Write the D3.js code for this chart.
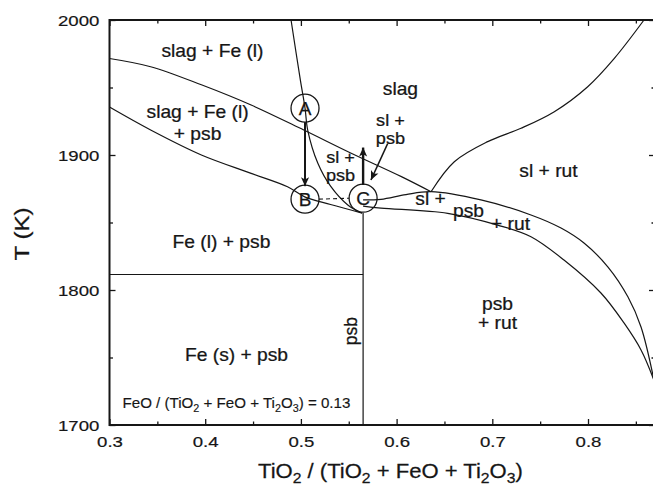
<!DOCTYPE html>
<html>
<head>
<meta charset="utf-8">
<script src="https://cdn.jsdelivr.net/npm/d3@7"></script>
<style>
  html, body { margin: 0; padding: 0; background: #fff; }
  svg { display: block; font-family: Arial, "Liberation Sans", Helvetica, sans-serif; }
</style>
</head>
<body>
<svg id="chart" width="653" height="485"></svg>
<script>
// ---- axis ticks ----
var xMajorTicks = [0.3, 0.4, 0.5, 0.6, 0.7, 0.8];
var xMinorTicks = [0.35, 0.45, 0.55, 0.65, 0.75, 0.85];
var yMajorTicks = [1700, 1800, 1900, 2000];
var yMinorTicks = [1750, 1850, 1950];

// ---- phase boundaries: [TiO2 fraction, T (K)] ----
var slagFeUpper = [[0.3, 1971.5], [0.343, 1965.4], [0.396, 1952], [0.448, 1937], [0.503, 1918.5],
                   [0.552, 1901.5], [0.605, 1884], [0.636, 1872.8]];
var slagFeLower = [[0.3, 1935.5], [0.343, 1918.5], [0.396, 1900], [0.448, 1886.4], [0.486, 1876.5],
                   [0.504, 1869], [0.531, 1863.3], [0.564, 1857]];
var psbLiquidus = [[0.4897, 2000], [0.4994, 1955.6], [0.5043, 1934.8], [0.5071, 1918.5], [0.5176, 1894.1],
                   [0.5314, 1876.5], [0.549, 1863], [0.564, 1857]];
var rutLiquidus = [[0.636, 1872.8], [0.6603, 1895], [0.6952, 1909.9], [0.73, 1919.8], [0.7648, 1932.1],
                   [0.7997, 1950.6], [0.8275, 1971.6], [0.8585, 2000]];
var threePhaseUpper = [[0.565, 1866.7], [0.5837, 1867.2], [0.6098, 1870.7], [0.636, 1872.8], [0.6881, 1866.7],
                       [0.7404, 1855.6], [0.7718, 1845.9], [0.7958, 1834.8], [0.8209, 1817], [0.8418, 1794.8],
                       [0.8554, 1772.6], [0.869, 1733]];
var threePhaseLower = [[0.565, 1862.2], [0.5837, 1860.7], [0.6534, 1856.8], [0.7056, 1848.1], [0.7404, 1839.5],
                       [0.7749, 1822.2], [0.8135, 1797.8], [0.8376, 1775.6], [0.8554, 1755.6], [0.869, 1733]];
var feMelting = [[0.3, 1811.5], [0.565, 1811.5]];
var psbLine = [[0.565, 1857], [0.565, 1700]];

// ---- points A, B, C ----
var points = [
  { name: 'A', x: 0.5043, T: 1934.7 },
  { name: 'B', x: 0.5043, T: 1867.3 },
  { name: 'C', x: 0.565, T: 1868 }
];
var arrowCUp = [[0.565, 1877.8], [0.565, 1905.5]];
var arrowLabel = [[0.5907, 1908.5], [0.5732, 1881.5]];

// ---- region labels (gap = line spacing in px) ----
var regionLabels = [
  { lines: ['slag + Fe (l)'], x: 0.4076, T: 1972.6 },
  { lines: ['slag + Fe (l)', '+ psb'], x: 0.392, T: 1927.4, gap: 22 },
  { lines: ['Fe (l) + psb'], x: 0.417, T: 1831.3 },
  { lines: ['Fe (s) + psb'], x: 0.4327, T: 1747.4 },
  { lines: ['slag'], x: 0.604, T: 1944.4 },
  { lines: ['sl +', 'psb'], x: 0.5936, T: 1921.5, gap: 18.5, size: 16.5 },
  { lines: ['sl +', 'psb'], x: 0.5414, T: 1894.1, gap: 18.5, size: 16.5 },
  { lines: ['sl + rut'], x: 0.7587, T: 1883.7 },
  { lines: ['sl +'], x: 0.6354, T: 1863 },
  { lines: ['psb'], x: 0.6751, T: 1854.1 },
  { lines: ['+ rut'], x: 0.719, T: 1844.4 },
  { lines: ['psb', '+ rut'], x: 0.7054, T: 1785.2, gap: 19 }
];

var svg = d3.select('#chart');
var x = d3.scaleLinear().domain([0.3, 0.87]).range([109.5, 655]);
var y = d3.scaleLinear().domain([1700, 2000]).range([425, 20]);
var INK = '#161616';

// horizontally stretched text, like the scanned figure
function label(parent, px, py, str, size, anchor, sx) {
  var g = parent.append('g').attr('transform', 'translate(' + px + ',' + py + ') scale(' + (sx || 1.1) + ',1)');
  return g.append('text')
    .attr('text-anchor', anchor || 'middle')
    .attr('font-size', size)
    .attr('fill', INK)
    .attr('stroke', INK).attr('stroke-width', 0.25)
    .text(str);
}

// ---- axes ----
function styleAxis(g) {
  g.select('.domain').remove();
  g.selectAll('line').attr('stroke', INK).attr('stroke-width', 1.3);
}
var gb = svg.append('g').attr('transform', 'translate(0,425)')
  .call(d3.axisBottom(x).tickValues(xMajorTicks).tickSize(-6).tickSizeOuter(0).tickFormat(d3.format('.1f')))
  .call(styleAxis);
gb.selectAll('text').attr('y', 22).attr('dy', 0).attr('font-size', 15.5).attr('fill', INK)
  .attr('stroke', INK).attr('stroke-width', 0.2)
  .attr('font-family', 'Arial, "Liberation Sans", sans-serif').attr('transform', 'scale(1.2,1)');
svg.append('g').attr('transform', 'translate(0,425)')
  .call(d3.axisBottom(x).tickValues(xMinorTicks).tickSize(-3.5).tickSizeOuter(0).tickFormat(''))
  .call(styleAxis);

svg.append('g').attr('transform', 'translate(0,20)')
  .call(d3.axisTop(x).tickValues(xMajorTicks).tickSize(-6).tickSizeOuter(0).tickFormat(''))
  .call(styleAxis);
svg.append('g').attr('transform', 'translate(0,20)')
  .call(d3.axisTop(x).tickValues(xMinorTicks).tickSize(-3.5).tickSizeOuter(0).tickFormat(''))
  .call(styleAxis);

var gl = svg.append('g').attr('transform', 'translate(109.5,0)')
  .call(d3.axisLeft(y).tickValues(yMajorTicks).tickSize(-6).tickSizeOuter(0).tickFormat(d3.format('d')))
  .call(styleAxis);
gl.selectAll('text').attr('x', -8.5).attr('dy', '0.35em').attr('font-size', 15.5).attr('fill', INK)
  .attr('stroke', INK).attr('stroke-width', 0.2)
  .attr('font-family', 'Arial, "Liberation Sans", sans-serif').attr('transform', 'scale(1.2,1)');
svg.append('g').attr('transform', 'translate(109.5,0)')
  .call(d3.axisLeft(y).tickValues(yMinorTicks).tickSize(-3.5).tickSizeOuter(0).tickFormat(''))
  .call(styleAxis);

svg.append('g').attr('transform', 'translate(655,0)')
  .call(d3.axisRight(y).tickValues(yMajorTicks).tickSize(-6).tickSizeOuter(0).tickFormat(''))
  .call(styleAxis);
svg.append('g').attr('transform', 'translate(655,0)')
  .call(d3.axisRight(y).tickValues(yMinorTicks).tickSize(-3.5).tickSizeOuter(0).tickFormat(''))
  .call(styleAxis);

// frame
svg.append('rect')
  .attr('x', x(0.3)).attr('y', y(2000))
  .attr('width', x(0.87) - x(0.3)).attr('height', y(1700) - y(2000))
  .attr('fill', 'none').attr('stroke', INK).attr('stroke-width', 2);

// ---- phase boundaries ----
var smooth = d3.line().x(function(d) { return x(d[0]); }).y(function(d) { return y(d[1]); })
  .curve(d3.curveCatmullRom.alpha(0.5));
var straight = d3.line().x(function(d) { return x(d[0]); }).y(function(d) { return y(d[1]); });

var plot = svg.append('g');
[slagFeUpper, slagFeLower, psbLiquidus, rutLiquidus, threePhaseUpper, threePhaseLower].forEach(function(c) {
  plot.append('path').attr('d', smooth(c))
    .attr('fill', 'none').attr('stroke', INK).attr('stroke-width', 1.2);
});
[feMelting, psbLine].forEach(function(c) {
  plot.append('path').attr('d', straight(c))
    .attr('fill', 'none').attr('stroke', INK).attr('stroke-width', 1.2);
});

// ---- arrows and markers ----
var defs = svg.append('defs');
defs.append('marker')
  .attr('id', 'arrow')
  .attr('viewBox', '0 -5 10 10')
  .attr('refX', 10).attr('refY', 0)
  .attr('markerUnits', 'userSpaceOnUse')
  .attr('markerWidth', 10).attr('markerHeight', 9)
  .attr('orient', 'auto')
  .append('path').attr('d', 'M0,-4.5L10,0L0,4.5L2.5,0Z').attr('fill', INK);

var R = 14;
var pA = points[0], pB = points[1], pC = points[2];

// tie line B - C
plot.append('line')
  .attr('x1', x(pB.x) + R).attr('x2', x(pC.x) - R)
  .attr('y1', y(pB.T)).attr('y2', y(pC.T))
  .attr('stroke', INK).attr('stroke-width', 1.1).attr('stroke-dasharray', '4,3');

// A -> B
plot.append('line')
  .attr('x1', x(pA.x)).attr('y1', y(pA.T) + R)
  .attr('x2', x(pB.x)).attr('y2', y(pB.T) - R + 1)
  .attr('stroke', INK).attr('stroke-width', 2).attr('marker-end', 'url(#arrow)');

// C upward
plot.append('path').attr('d', straight(arrowCUp))
  .attr('stroke', INK).attr('stroke-width', 2.4).attr('marker-end', 'url(#arrow)');

// label pointer
plot.append('path').attr('d', straight(arrowLabel))
  .attr('stroke', INK).attr('stroke-width', 1.6).attr('marker-end', 'url(#arrow)');

// circles with letters
var pt = plot.selectAll('.pt').data(points).join('g')
  .attr('class', 'pt')
  .attr('transform', function(d) { return 'translate(' + x(d.x) + ',' + y(d.T) + ')'; });
pt.append('circle').attr('r', R).attr('fill', 'none').attr('stroke', INK).attr('stroke-width', 1.3);
pt.append('text').attr('text-anchor', 'middle').attr('dy', '0.36em')
  .attr('font-size', 19).attr('fill', INK).attr('stroke', INK).attr('stroke-width', 0.25)
  .text(function(d) { return d.name; });

// ---- region labels ----
regionLabels.forEach(function(l) {
  l.lines.forEach(function(s, i) {
    label(svg, x(l.x), y(l.T) + i * (l.gap || 16), s, l.size || 17.5, 'middle', 1.1);
  });
});

// vertical "psb" along the compound line
svg.append('g').attr('transform', 'translate(' + (x(0.5591)) + ',' + y(1769.6) + ') rotate(-90) scale(1,1.1)')
  .append('text').attr('text-anchor', 'middle').attr('font-size', 17.5).attr('fill', INK)
  .attr('stroke', INK).attr('stroke-width', 0.25).text('psb');

// composition note
var note = svg.append('g').attr('transform', 'translate(' + x(0.3136) + ',' + y(1712.6) + ') scale(1.08,1)')
  .append('text').attr('font-size', 14).attr('fill', INK).attr('stroke', INK).attr('stroke-width', 0.15);
note.append('tspan').text('FeO / (TiO');
note.append('tspan').attr('dy', 4).attr('font-size', 10).text('2');
note.append('tspan').attr('dy', -4).text(' + FeO + Ti');
note.append('tspan').attr('dy', 4).attr('font-size', 10).text('2');
note.append('tspan').attr('dy', -4).text('O');
note.append('tspan').attr('dy', 4).attr('font-size', 10).text('3');
note.append('tspan').attr('dy', -4).text(') = 0.13');

// ---- axis titles ----
var xt = svg.append('g').attr('transform', 'translate(258,478) scale(1.05,1)')
  .append('text').attr('font-size', 21).attr('fill', INK).attr('stroke', INK).attr('stroke-width', 0.25);
xt.append('tspan').text('TiO');
xt.append('tspan').attr('dy', 5).attr('font-size', 15).text('2');
xt.append('tspan').attr('dy', -5).text(' / (TiO');
xt.append('tspan').attr('dy', 5).attr('font-size', 15).text('2');
xt.append('tspan').attr('dy', -5).text(' + FeO + Ti');
xt.append('tspan').attr('dy', 5).attr('font-size', 15).text('2');
xt.append('tspan').attr('dy', -5).text('O');
xt.append('tspan').attr('dy', 5).attr('font-size', 15).text('3');
xt.append('tspan').attr('dy', -5).text(')');

svg.append('g').attr('transform', 'translate(29,234) rotate(-90) scale(1.15,1)')
  .append('text').attr('text-anchor', 'middle').attr('font-size', 21).attr('fill', INK)
  .attr('stroke', INK).attr('stroke-width', 0.25).text('T (K)');
</script>
</body>
</html>
